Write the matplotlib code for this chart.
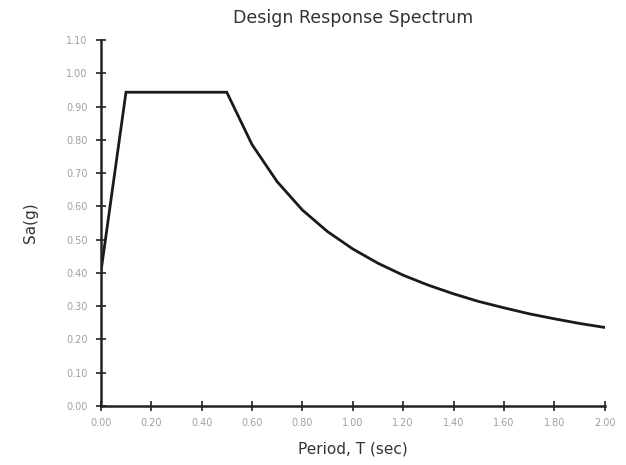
import numpy as np
import matplotlib.pyplot as plt

# Design response spectrum values
period = [0.0, 0.1, 0.5, 0.6, 0.7, 0.8, 0.9, 1.0, 1.1, 1.2, 1.3, 1.4,
          1.5, 1.6, 1.7, 1.8, 1.9, 2.0]
sa = [0.40, 0.943, 0.943, 0.786, 0.674, 0.589, 0.524, 0.472, 0.429, 0.393,
      0.363, 0.337, 0.314, 0.295, 0.277, 0.262, 0.248, 0.236]

xticks = np.arange(0, 2.01, 0.2)
yticks = np.arange(0, 1.101, 0.1)

fig = plt.figure(figsize=(6.26, 4.65), dpi=100)
ax = fig.add_axes([0.161, 0.127, 0.805, 0.787])
ax.plot(period, sa, color='#1a1a1a', lw=2.0, solid_joinstyle='miter')

ax.set_xlim(0, 2.0)
ax.set_ylim(0, 1.10)
ax.set_xticks(xticks)
ax.set_yticks(yticks)
ax.set_xticklabels(['%.2f' % t for t in xticks])
ax.set_yticklabels(['%.2f' % t for t in yticks])
ax.tick_params(direction='inout', length=7, width=1.2, colors='#222222',
               labelcolor='#a0a0a0', labelsize=7)
ax.tick_params(axis='x', pad=5)
ax.tick_params(axis='y', pad=6)

for s in ['top', 'right']:
    ax.spines[s].set_visible(False)
for s in ['left', 'bottom']:
    ax.spines[s].set_linewidth(1.8)
    ax.spines[s].set_color('#222222')

ax.set_title('Design Response Spectrum', fontsize=12.5, color='#333333', pad=12)
ax.set_xlabel('Period, T (sec)', fontsize=11, color='#333333', labelpad=10)
ax.set_ylabel('Sa(g)', fontsize=11, color='#333333', labelpad=20)

fig.savefig('out.png', dpi=100)
